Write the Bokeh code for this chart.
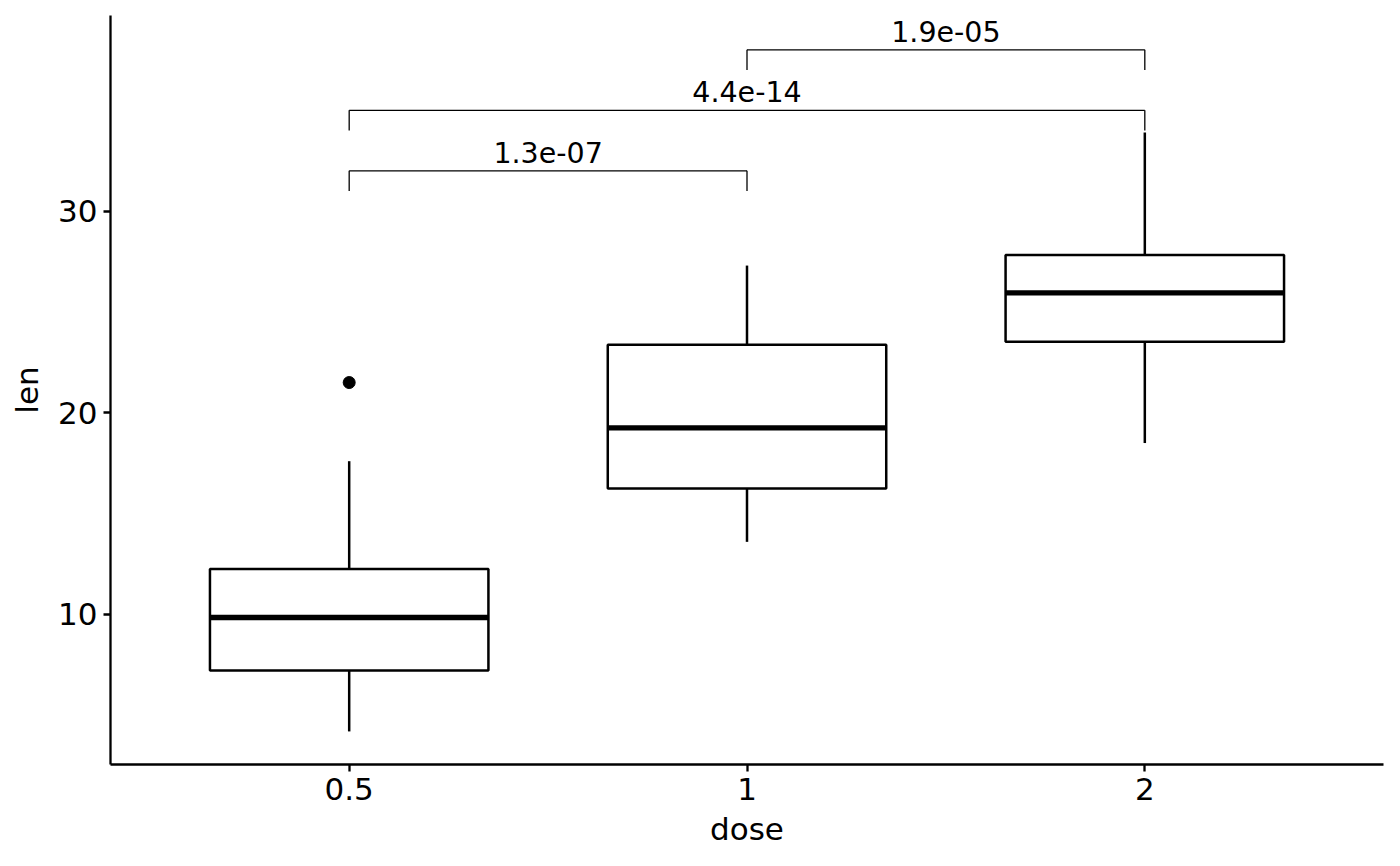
from bokeh.core.properties import value
from bokeh.embed import file_html
from bokeh.models import FixedTicker, Range1d
from bokeh.plotting import figure
from bokeh.resources import INLINE

# ToothGrowth len by dose, box statistics
doses = ["0.5", "1", "2"]
q1 = [7.225, 16.25, 23.525]
median = [9.85, 19.25, 25.95]
q3 = [12.25, 23.375, 27.825]
whisker_low = [4.2, 13.6, 18.5]
whisker_high = [17.6, 27.3, 33.9]
outlier_dose = ["0.5"]
outlier_len = [21.5]

# pairwise comparisons (group1, group2, bracket height, p label)
cmp_from = ["0.5", "0.5", "1"]
cmp_to = ["1", "2", "2"]
cmp_y = [32.0, 35.0, 38.0]
cmp_label = ["1.3e-07", "4.4e-14", "1.9e-05"]
tip = 1.0

FONT = "DejaVu Sans"
pos = {d: i + 1 for i, d in enumerate(doses)}
x = [pos[d] for d in doses]

p = figure(width=1392, height=858, output_backend="svg", toolbar_location=None,
           x_range=Range1d(0.4, 3.6), y_range=Range1d(2.56, 39.7),
           min_border_left=110, min_border_right=9, min_border_top=15, min_border_bottom=94)
p.outline_line_color = None
p.grid.visible = False
p.background_fill_color = "white"

# whiskers
p.segment(x, q3, x, whisker_high, line_color="black", line_width=2.5)
p.segment(x, q1, x, whisker_low, line_color="black", line_width=2.5)
# boxes
p.vbar(x=x, width=0.7, bottom=q1, top=q3, fill_color="white",
       line_color="black", line_width=2.5)
# medians
p.segment([v - 0.35 for v in x], median, [v + 0.35 for v in x], median,
          line_color="black", line_width=5.3)
# outliers
p.scatter([pos[d] for d in outlier_dose], outlier_len, size=12, color="black")

# brackets
x0 = [pos[d] for d in cmp_from]
x1 = [pos[d] for d in cmp_to]
p.segment(x0, cmp_y, x1, cmp_y, line_color="black", line_width=1.3)
p.segment(x0, cmp_y, x0, [y - tip for y in cmp_y], line_color="black", line_width=1.3)
p.segment(x1, cmp_y, x1, [y - tip for y in cmp_y], line_color="black", line_width=1.3)
p.text([(a + b) / 2 for a, b in zip(x0, x1)], cmp_y, text=cmp_label,
       text_align="center", text_baseline="bottom", y_offset=-8,
       text_font=value(FONT), text_font_size="28.5px", text_color="black")

p.xaxis.ticker = FixedTicker(ticks=x)
p.xaxis.major_label_overrides = {pos[d]: d for d in doses}
p.yaxis.ticker = FixedTicker(ticks=[10, 20, 30])
p.xaxis.axis_label = "dose"
p.yaxis.axis_label = "len"

for ax in (p.xaxis, p.yaxis):
    ax.axis_line_color = "black"
    ax.axis_line_width = 2.3
    ax.major_tick_line_color = "black"
    ax.major_tick_line_width = 2.3
    ax.major_tick_out = 7
    ax.major_tick_in = 0
    ax.minor_tick_line_color = None
    ax.major_label_text_font = FONT
    ax.major_label_text_font_size = "31px"
    ax.major_label_text_color = "black"
    ax.axis_label_text_font = FONT
    ax.axis_label_text_font_size = "31px"
    ax.axis_label_text_font_style = "normal"
    ax.axis_label_text_color = "black"
    ax.major_label_standoff = 6
    ax.axis_label_standoff = 8

p.yaxis.axis_label_standoff = 10

open("out.html", "w").write(file_html(p, INLINE))
